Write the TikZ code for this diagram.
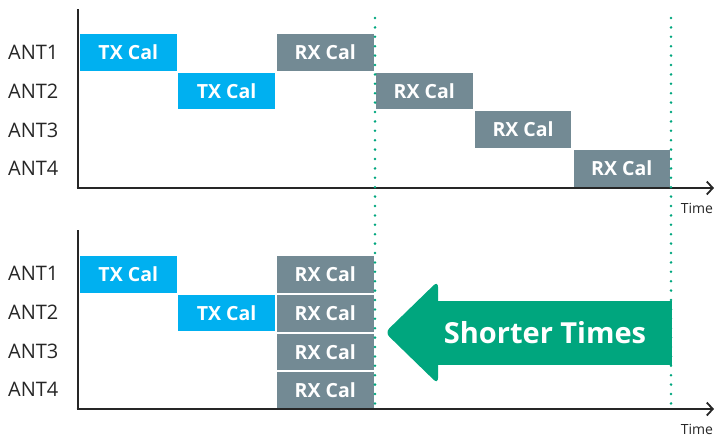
\documentclass[tikz,border=0pt]{standalone}
\usepackage{fontspec}
\setmainfont{Open Sans}
\usetikzlibrary{arrows.meta}
\definecolor{txblue}{HTML}{00B0F0}
\definecolor{rxgray}{HTML}{738A94}
\definecolor{arrowgreen}{HTML}{00A67E}
\definecolor{axisdark}{HTML}{262626}
\definecolor{labeldark}{HTML}{262626}
\begin{document}
\begin{tikzpicture}[x=1pt,y=1pt,
  calbox/.style={anchor=north west,inner sep=0pt,outer sep=0pt,minimum width=96.5pt,minimum height=36.8pt,text=white,font=\bfseries\fontsize{19.5}{21}\selectfont},
  txbox/.style={calbox,fill=txblue},
  rxbox/.style={calbox,fill=rxgray},
  antlabel/.style={anchor=west,inner sep=0pt,text=labeldark,font=\fontsize{20}{22}\selectfont},
  timelabel/.style={inner sep=0pt,text=labeldark,font=\fontsize{14}{15}\selectfont},
  axisline/.style={draw=axisdark,line width=2.6pt},
  axisarrow/.style={axisline,-{Straight Barb[length=6pt,width=13pt,line width=1.8pt]}},
  guide/.style={draw=arrowgreen,line width=2.8pt,line cap=round,dash pattern=on 0pt off 9.4pt}
]
\useasboundingbox (0,0) rectangle (714,-437);
% ---------- top chart ----------
\coordinate (t0) at (78,-188);
\coordinate (ttop) at (78,-9);
\coordinate (tend) at (714,-188);
\node[antlabel] (ta1) at (8,-52) {ANT1};
\node[antlabel] (ta2) at (8,-91) {ANT2};
\node[antlabel] (ta3) at (8,-130) {ANT3};
\node[antlabel] (ta4) at (8,-168) {ANT4};
\node[txbox] (ttx1) at (80,-34) {TX Cal};
\node[txbox] (ttx2) at (178.3,-72.5) {TX Cal};
\node[rxbox] (trx1) at (277,-34) {RX Cal};
\node[rxbox] (trx2) at (376,-72.5) {RX Cal};
\node[rxbox] (trx3) at (474.8,-111) {RX Cal};
\node[rxbox] (trx4) at (573.5,-150) {RX Cal};
\draw[axisline] (ttop) -- (t0);
\draw[axisarrow] ([xshift=-1.3pt]t0) -- (tend);
\node[timelabel] (ttime) at (697,-208) {Time};
% ---------- bottom chart ----------
\coordinate (b0) at (78,-409);
\coordinate (btop) at (78,-230);
\coordinate (bend) at (714,-409);
\node[antlabel] (ba1) at (8,-273) {ANT1};
\node[antlabel] (ba2) at (8,-312) {ANT2};
\node[antlabel] (ba3) at (8,-351) {ANT3};
\node[antlabel] (ba4) at (8,-389.5) {ANT4};
\node[txbox] (btx1) at (80,-256) {TX Cal};
\node[txbox] (btx2) at (178.3,-294.5) {TX Cal};
\node[rxbox] (brx1) at (277,-256) {RX Cal};
\node[rxbox] (brx2) at (277,-294.8) {RX Cal};
\node[rxbox] (brx3) at (277,-333.5) {RX Cal};
\node[rxbox] (brx4) at (277,-372.2) {RX Cal};
\draw[axisline] (btop) -- (b0);
\draw[axisarrow] ([xshift=-1.3pt]b0) -- (bend);
\node[timelabel] (btime) at (697,-429) {Time};
% ---------- guides ----------
\coordinate (g1a) at (375,-18);
\coordinate (g1b) at (375,-408);
\coordinate (g2a) at (671,-18);
\coordinate (g2b) at (671,-408);
\draw[guide] (g1a) -- (g1b);
\draw[guide] (g2a) -- (g2b);
% ---------- big arrow ----------
\fill[arrowgreen,rounded corners=6pt] (438,-281) -- (385,-332.5) -- (438,-384) -- cycle;
\fill[arrowgreen] (430,-301) rectangle (672,-365);
\node[text=white,font=\bfseries\fontsize{29}{32}\selectfont,inner sep=0pt] (shorter) at (545,-333) {Shorter Times};
\end{tikzpicture}
\end{document}
